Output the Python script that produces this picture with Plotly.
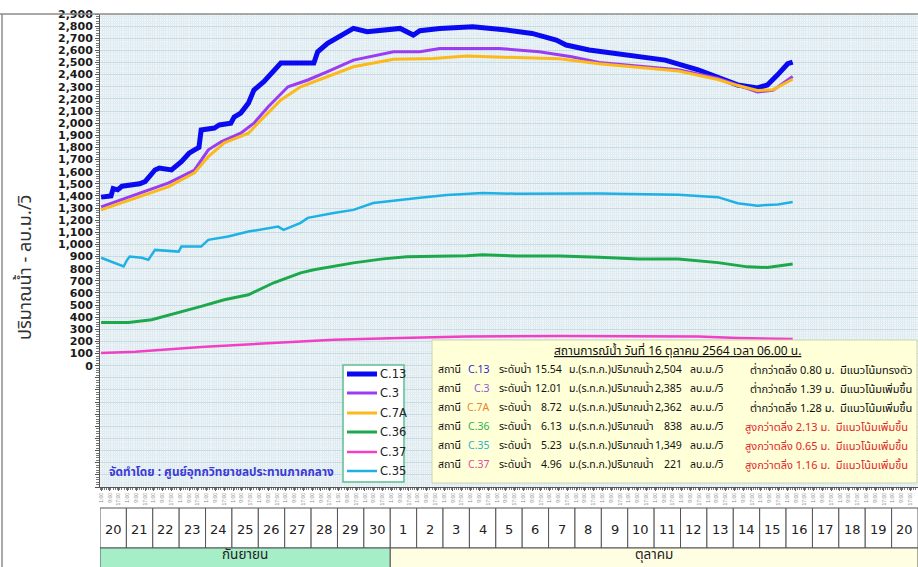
import plotly.graph_objects as go

# ---------------- data: discharge (m3/s) by station ----------------
c13_time = ["2021-09-20 01:00", "2021-09-20 10:00", "2021-09-20 12:00", "2021-09-20 16:00", "2021-09-20 20:00",
            "2021-09-21 08:00", "2021-09-21 12:00", "2021-09-21 17:00", "2021-09-22 02:00", "2021-09-22 06:00",
            "2021-09-22 17:00", "2021-09-23 02:00", "2021-09-23 09:00", "2021-09-23 14:00", "2021-09-23 18:00",
            "2021-09-23 20:00", "2021-09-24 08:00", "2021-09-24 12:30", "2021-09-24 23:00", "2021-09-25 02:00",
            "2021-09-25 08:00", "2021-09-25 15:00", "2021-09-25 20:00", "2021-09-26 05:00", "2021-09-26 14:00",
            "2021-09-26 20:30", "2021-09-28 02:30", "2021-09-28 06:00", "2021-09-28 15:00", "2021-09-29 03:00",
            "2021-09-29 14:30", "2021-09-30 03:00", "2021-10-01 09:00", "2021-10-01 21:00", "2021-10-02 03:00",
            "2021-10-02 21:00", "2021-10-04 03:00", "2021-10-05 10:00", "2021-10-06 09:00", "2021-10-07 07:00",
            "2021-10-07 16:00", "2021-10-08 13:00", "2021-10-09 13:00", "2021-10-10 10:00", "2021-10-11 10:00",
            "2021-10-12 16:00", "2021-10-13 10:00", "2021-10-14 04:00", "2021-10-14 22:00", "2021-10-15 07:00",
            "2021-10-15 16:30", "2021-10-16 01:30", "2021-10-16 06:00"]
c13_flow = [1390, 1400, 1460, 1450, 1480,
            1490, 1500, 1518, 1614, 1630,
            1614, 1683, 1752, 1780, 1800,
            1944, 1960, 1985, 2000, 2050,
            2083, 2165, 2273, 2342, 2438,
            2495, 2495, 2589, 2658, 2726,
            2781, 2754, 2781, 2726, 2762,
            2781, 2795, 2768, 2740, 2685,
            2644, 2603, 2576, 2550, 2520,
            2440, 2380, 2315, 2290, 2315,
            2400, 2490, 2504]

c3_time = ["2021-09-20 01:00", "2021-09-21 08:00", "2021-09-22 14:30", "2021-09-23 14:00", "2021-09-24 02:30",
           "2021-09-24 14:30", "2021-09-25 08:00", "2021-09-25 20:00", "2021-09-26 09:00", "2021-09-27 03:00",
           "2021-09-27 21:00", "2021-09-28 15:00", "2021-09-29 14:30", "2021-10-01 03:00", "2021-10-02 03:00",
           "2021-10-02 21:00", "2021-10-05 03:00", "2021-10-06 15:30", "2021-10-07 21:00", "2021-10-08 22:00",
           "2021-10-10 10:00", "2021-10-11 22:00", "2021-10-13 10:00", "2021-10-14 04:00", "2021-10-14 22:00",
           "2021-10-15 12:00", "2021-10-16 06:00"]
c3_flow = [1310, 1408, 1507, 1614, 1780,
           1848, 1917, 2000, 2136, 2300,
           2356, 2424, 2520, 2589, 2589,
           2616, 2616, 2589, 2548, 2500,
           2470, 2440, 2370, 2315, 2257,
           2270, 2385]

c7a_time = ["2021-09-20 01:00", "2021-09-21 08:00", "2021-09-22 14:30", "2021-09-23 14:00", "2021-09-24 02:30",
            "2021-09-24 17:00", "2021-09-25 15:00", "2021-09-26 02:30", "2021-09-26 20:30", "2021-09-27 14:30",
            "2021-09-28 15:00", "2021-09-29 14:30", "2021-10-01 03:00", "2021-10-02 15:00", "2021-10-03 21:30",
            "2021-10-05 19:00", "2021-10-07 10:00", "2021-10-08 22:00", "2021-10-10 10:00", "2021-10-11 22:00",
            "2021-10-13 10:00", "2021-10-14 04:00", "2021-10-14 22:00", "2021-10-15 12:00", "2021-10-16 06:00"]
c7a_flow = [1285, 1384, 1477, 1590, 1724,
            1837, 1917, 2026, 2191, 2300,
            2383, 2465, 2526, 2534, 2553,
            2540, 2530, 2490, 2460, 2430,
            2360, 2310, 2270, 2275, 2362]

c36_time = ["2021-09-20 01:00", "2021-09-21 02:00", "2021-09-21 23:00", "2021-09-22 23:30", "2021-09-23 20:00",
            "2021-09-24 17:00", "2021-09-25 15:00", "2021-09-26 14:00", "2021-09-27 14:30", "2021-09-28 02:30",
            "2021-09-28 20:30", "2021-09-29 14:30", "2021-09-30 17:30", "2021-10-01 15:00", "2021-10-03 21:30",
            "2021-10-04 12:00", "2021-10-05 19:00", "2021-10-07 10:00", "2021-10-08 22:00", "2021-10-10 10:00",
            "2021-10-11 22:00", "2021-10-13 10:00", "2021-10-14 13:00", "2021-10-15 07:00", "2021-10-16 06:00"]
c36_flow = [357, 357, 379, 437, 489,
            544, 585, 684, 766, 791,
            818, 848, 881, 898, 906,
            914, 905, 905, 895, 880,
            880, 850, 815, 810, 838]

c37_time = ["2021-09-20 01:00", "2021-09-21 08:00", "2021-09-23 20:00", "2021-09-26 09:00", "2021-09-28 20:30",
            "2021-10-01 09:00", "2021-10-03 21:30", "2021-10-07 10:00", "2021-10-12 16:00", "2021-10-14 04:00",
            "2021-10-16 06:00"]
c37_flow = [105, 115, 155, 187, 214,
            228, 241, 245, 240, 228,
            221]

c35_time = ["2021-09-20 01:00", "2021-09-20 09:00", "2021-09-20 13:30", "2021-09-20 18:00", "2021-09-20 21:30",
            "2021-09-21 00:30", "2021-09-21 03:00", "2021-09-21 14:00", "2021-09-21 20:00", "2021-09-22 02:00",
            "2021-09-22 23:30", "2021-09-23 02:00", "2021-09-23 20:00", "2021-09-24 02:30", "2021-09-24 20:30",
            "2021-09-25 15:00", "2021-09-26 18:00", "2021-09-26 23:00", "2021-09-27 14:30", "2021-09-27 21:00",
            "2021-09-28 20:30", "2021-09-29 14:30", "2021-09-30 08:30", "2021-10-02 03:00", "2021-10-03 03:30",
            "2021-10-04 12:00", "2021-10-05 19:00", "2021-10-08 22:00", "2021-10-11 22:00", "2021-10-13 10:00",
            "2021-10-14 04:00", "2021-10-14 22:00", "2021-10-15 16:30", "2021-10-16 06:00"]
c35_flow = [890, 860, 848, 830, 818,
            870, 900, 890, 873, 955,
            941, 982, 982, 1038, 1065,
            1106, 1147, 1120, 1178, 1219,
            1260, 1285, 1342, 1384, 1408,
            1425, 1417, 1420, 1410, 1390,
            1340, 1320, 1330, 1349]

# ---------------- station summary at 16 Oct 2564, 06.00 ----------------
table_codes = ["C.13", "C.3", "C.7A", "C.36", "C.35", "C.37"]
table_levels = ["15.54", "12.01", "8.72", "6.13", "5.23", "4.96"]
table_bank = ["ต่ำกว่าตลิ่ง 0.80 ม.", "ต่ำกว่าตลิ่ง 1.39 ม.", "ต่ำกว่าตลิ่ง 1.28 ม.",
              "สูงกว่าตลิ่ง 2.13 ม.", "สูงกว่าตลิ่ง 0.65 ม.", "สูงกว่าตลิ่ง 1.16 ม."]
table_trend = ["มีแนวโน้มทรงตัว", "มีแนวโน้มเพิ่มขึ้น", "มีแนวโน้มเพิ่มขึ้น",
               "มีแนวโน้มเพิ่มขึ้น", "มีแนวโน้มเพิ่มขึ้น", "มีแนวโน้มเพิ่มขึ้น"]

days = ["2021-09-%02d" % d for d in range(20, 31)] + ["2021-10-%02d" % d for d in range(1, 21)]
day_labels = [str(d) for d in range(20, 31)] + [str(d) for d in range(1, 21)]
hour_labels = ["1:00", "9:00", "17:00"]

series = [
    ("C.13", c13_time, c13_flow, "#0a0af0", 5),
    ("C.3", c3_time, c3_flow, "#9b3cf2", 3),
    ("C.7A", c7a_time, c7a_flow, "#fbb91a", 3),
    ("C.36", c36_time, c36_flow, "#1ea84c", 3),
    ("C.37", c37_time, c37_flow, "#f23fc4", 2.5),
    ("C.35", c35_time, c35_flow, "#1fb0e6", 2.5),
]
code_colors = {"C.13": "#2b2bd6", "C.3": "#8c5ad6", "C.7A": "#e8872a",
               "C.36": "#2fb04f", "C.35": "#2aaed6", "C.37": "#e04aa8"}
last_flow = {name: q[-1] for name, _, q, _, _ in series}

# ---------------- geometry of the page ----------------
W, H = 918, 567
ML, MR, MT, MB = 100, 0, 14, 80
PW, PH = W - ML - MR, H - MT - MB


def px(x):
    return (x - ML) / PW


def py(y):
    return (H - MB - y) / PH


THAI = "Tahoma, 'Noto Sans Thai', 'Noto Sans', sans-serif"
LATIN = "Tahoma, 'DejaVu Sans', sans-serif"

fig = go.Figure()
for name, t, q, col, w in series:
    fig.add_trace(go.Scatter(x=t, y=q, mode="lines", name=name, showlegend=False,
                             line=dict(color=col, width=w)))

# y ticks: labelled 0..2900, unlabelled below zero
yvals = list(range(-1000, 3000, 100))
ytext = ["{:,}".format(v) if v >= 0 else "" for v in yvals]

# x ticks: three time labels per day
xvals, xtext = [], []
for d in days:
    for h in hour_labels:
        hh = int(h.split(":")[0])
        xvals.append("%s %02d:00" % (d, hh))
        xtext.append(h)

fig.update_layout(
    width=W, height=H,
    margin=dict(l=ML, r=MR, t=MT, b=MB, pad=0),
    paper_bgcolor="white",
    plot_bgcolor="#eef6f9",
    showlegend=False,
    xaxis=dict(range=["2021-09-20 00:00", "2021-10-21 00:00"], type="date",
               tickvals=xvals, ticktext=xtext, tickangle=-90,
               tickfont=dict(size=5, color="#8a8a8a", family="Arial"),
               ticks="outside", ticklen=3, tickcolor="#666",
               showgrid=False, showline=True, linecolor="#555", linewidth=1,
               zeroline=False,
               minor=dict(dtick=2 * 3600 * 1000, showgrid=True, gridcolor="#dfeaf0",
                          ticks="outside", ticklen=2, tickcolor="#777")),
    yaxis=dict(range=[-1000, 2900], tickvals=yvals, ticktext=ytext,
               tickfont=dict(family="'DejaVu Sans', sans-serif", size=11, color="#1a1a1a", weight="bold"),
               ticks="outside", ticklen=4, tickcolor="#555",
               showgrid=True, gridcolor="#c8dae2", gridwidth=1,
               showline=True, linecolor="#555", linewidth=1, zeroline=False,
               minor=dict(dtick=20, showgrid=True, gridcolor="#e2edf2",
                          ticks="outside", ticklen=3, tickcolor="#777")),
)

shapes = []
annotations = []

# outer frame lines
shapes.append(dict(type="line", xref="paper", yref="paper", x0=px(0), x1=px(W), y0=py(14), y1=py(14),
                   line=dict(color="#8c8c8c", width=1.5)))
shapes.append(dict(type="line", xref="paper", yref="paper", x0=px(2), x1=px(2), y0=py(14), y1=py(H + 5),
                   line=dict(color="#8c8c8c", width=1.5)))

# day row
for i, d in enumerate(days):
    nxt = days[i + 1] if i + 1 < len(days) else "2021-10-21"
    shapes.append(dict(type="rect", xref="x", yref="paper", x0=d, x1=nxt, y0=py(548), y1=py(508),
                       fillcolor="white", line=dict(color="#555", width=1), layer="above"))
    annotations.append(dict(x=d + " 12:00", y=py(529), xref="x", yref="paper", text=day_labels[i],
                            showarrow=False, xanchor="center", yanchor="middle",
                            font=dict(family=LATIN, size=13, color="#222")))

# month row
shapes.append(dict(type="rect", xref="x", yref="paper", x0="2021-09-20", x1="2021-10-01",
                   y0=py(H + 5), y1=py(548), fillcolor="#a6eec7", line=dict(color="#555", width=1)))
shapes.append(dict(type="rect", xref="x", yref="paper", x0="2021-10-01", x1="2021-10-21",
                   y0=py(H + 5), y1=py(548), fillcolor="#fffde2", line=dict(color="#555", width=1)))
for mx, mname in [("2021-09-25 12:00", "กันยายน"), ("2021-10-11 00:00", "ตุลาคม")]:
    annotations.append(dict(x=mx, y=py(567), xref="x", yref="paper", text=mname,
                            showarrow=False, xanchor="center", yanchor="bottom",
                            font=dict(family=THAI, size=13.5, color="#222")))

# station legend box
legend_y = [374, 393, 413, 432, 452, 471]
shapes.append(dict(type="rect", xref="paper", yref="paper", x0=px(343), x1=px(404), y0=py(482), y1=py(365),
                   fillcolor="white", line=dict(color="#5dbf91", width=1.5), layer="above"))
for (name, _, _, col, w), ly in zip(series, legend_y):
    shapes.append(dict(type="line", xref="paper", yref="paper", x0=px(347), x1=px(377), y0=py(ly), y1=py(ly),
                       line=dict(color=col, width=w), layer="above"))
    annotations.append(dict(x=px(378), y=py(ly), xref="paper", yref="paper", text=name, showarrow=False,
                            xanchor="left", yanchor="middle",
                            font=dict(family=LATIN, size=11.5, color="#222")))

# summary box
shapes.append(dict(type="rect", xref="paper", yref="paper", x0=px(432), x1=px(917), y0=py(483), y1=py(340),
                   fillcolor="#ffffd8", line=dict(color="#c9d3b4", width=1), layer="above"))
annotations.append(dict(x=px(677), y=py(351), xref="paper", yref="paper",
                        text="<u>สถานการณ์น้ำ วันที่ 16 ตุลาคม 2564 เวลา 06.00 น.</u>",
                        showarrow=False, xanchor="center", yanchor="middle",
                        font=dict(family=THAI, size=12, color="#111")))

row_y = [370, 389, 408, 427, 446, 465]
for i, code in enumerate(table_codes):
    y = py(row_y[i])
    below = table_bank[i].startswith("ต่ำ")
    tail_color = "#111" if below else "#e3262b"
    cells = [
        (436, "left", "สถานี", "#111", 10.5),
        (491, "right", code, code_colors[code], 10.5),
        (497, "left", "ระดับน้ำ", "#111", 10.5),
        (564, "right", table_levels[i], "#111", 10.5),
        (567, "left", "ม.(ร.ท.ก.)", "#111", 10.5),
        (609, "left", "ปริมาณน้ำ", "#111", 10.5),
        (684, "right", "{:,}".format(last_flow[code]), "#111", 10.5),
        (688, "left", "ลบ.ม./วิ", "#111", 10.5),
        (748 if below else 743, "left", table_bank[i] + "  " + table_trend[i], tail_color, 11),
    ]
    for x, anchor, txt, col, fs in cells:
        annotations.append(dict(x=px(x), y=y, xref="paper", yref="paper", text=txt, showarrow=False,
                                xanchor=anchor, yanchor="middle",
                                font=dict(family=THAI, size=fs, color=col)))

# credit line inside the plot
annotations.append(dict(x=px(107), y=py(472), xref="paper", yref="paper",
                        text="<b>จัดทำโดย : ศูนย์อุทกวิทยาชลประทานภาคกลาง</b>", showarrow=False,
                        xanchor="left", yanchor="middle",
                        font=dict(family=THAI, size=11.8, color="#3a3ad8")))

# y-axis title
annotations.append(dict(x=px(25), y=py(268), xref="paper", yref="paper",
                        text="ปริมาณน้ำ - ลบ.ม./วิ", textangle=-90, showarrow=False,
                        xanchor="center", yanchor="middle",
                        font=dict(family=THAI, size=18, color="#333")))

fig.update_layout(shapes=shapes, annotations=annotations)
fig.write_html("out.html")
